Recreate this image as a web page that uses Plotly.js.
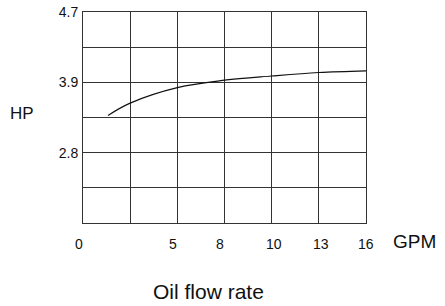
<!DOCTYPE html>
<html>
<head>
<meta charset="utf-8">
<script src="https://cdn.plot.ly/plotly-3.0.1.min.js"></script>
<style>html,body{margin:0;padding:0;background:#fff;}#chart{width:445px;height:306px;}</style>
</head>
<body>
<div id="chart"></div>
<script>
// Grid positions (6 x 6 cells); axis is a grid-index scale
const xTickLabels = ["0", "5", "8", "10", "13", "16"];
const xTickGrid = [0, 2, 3, 4, 5, 6];
const yTickLabels = ["2.8", "3.9", "4.7"];
const yTickGrid = [2, 4, 6];
// Curve, in grid units
const curveX = [0.53, 1.0, 2.0, 3.0, 4.0, 5.0, 6.04];
const curveY = [3.06, 3.41, 3.85, 4.06, 4.18, 4.28, 4.33];

const font = "Liberation Sans, Arial, sans-serif";
const gridColor = "#333";
const xNudge = [-4.3, -4, -4.6, 2.7, 2.4, 0];

const annotations = xTickLabels.map((t, i) => ({
  text: t, xref: "x", yref: "paper", x: xTickGrid[i], y: 0,
  xanchor: "center", yanchor: "middle", xshift: xNudge[i], yshift: -20.5,
  showarrow: false, font: {family: font, size: 14, color: "#111"}
}));
annotations.push({
  text: "GPM", xref: "paper", yref: "paper", x: 1, y: 0, xanchor: "left", yanchor: "middle",
  xshift: 25, yshift: -18.5, showarrow: false, font: {family: font, size: 19, color: "#111"}
});
annotations.push({
  text: "HP", xref: "paper", yref: "paper", x: 0, y: 0.5, xanchor: "center", yanchor: "middle",
  xshift: -61.5, yshift: 4, showarrow: false, font: {family: font, size: 17, color: "#111"}
});
annotations.push({
  text: "Oil flow rate", xref: "paper", yref: "paper", x: 0, y: 0, xanchor: "center", yanchor: "middle",
  xshift: 125, yshift: -68.5, showarrow: false, font: {family: font, size: 21, color: "#111"}
});

const data = [{
  x: curveX, y: curveY, type: "scatter", mode: "lines",
  line: {color: "#111", width: 1.2, shape: "spline", smoothing: 1}, hoverinfo: "skip"
}];

const layout = {
  width: 445, height: 306,
  margin: {l: 83, r: 79, t: 12, b: 83, pad: 0},
  paper_bgcolor: "#fff", plot_bgcolor: "#fff",
  showlegend: false,
  xaxis: {
    range: [0, 6], tickvals: [0, 1, 2, 3, 4, 5, 6], showticklabels: false, ticks: "",
    showgrid: true, gridcolor: gridColor, gridwidth: 1, zeroline: false,
    showline: true, linecolor: gridColor, linewidth: 1, mirror: true, fixedrange: true
  },
  yaxis: {
    range: [0, 6], tickvals: yTickGrid, ticktext: yTickLabels, ticks: "",
    tickfont: {family: font, size: 14, color: "#111"}, ticklabelstandoff: 1, ticklabelshift: 1.5,
    showgrid: false, zeroline: false,
    showline: true, linecolor: gridColor, linewidth: 1, mirror: true, fixedrange: true,
    minor: {tickvals: [0, 1, 2, 3, 4, 5, 6], showgrid: true, gridcolor: gridColor, gridwidth: 1, ticks: ""}
  },
  annotations: annotations
};

Plotly.newPlot("chart", data, layout, {displayModeBar: false, staticPlot: true});
</script>
</body>
</html>
